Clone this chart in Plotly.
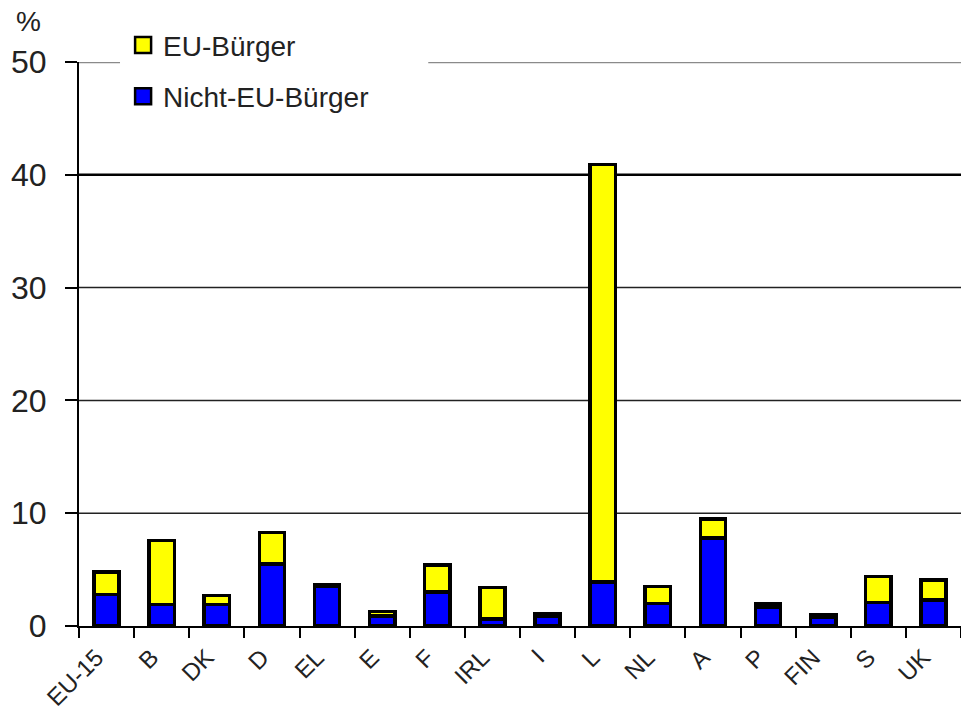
import plotly.graph_objects as go

countries = ["EU-15", "B", "DK", "D", "EL", "E", "F", "IRL", "I", "L", "NL", "A", "P", "FIN", "S", "UK"]
non_eu = [2.8, 1.9, 1.9, 5.5, 3.5, 0.9, 3.0, 0.6, 0.9, 3.9, 2.0, 7.8, 1.7, 0.8, 2.1, 2.3]
eu = [2.0, 5.7, 0.8, 2.8, 0.2, 0.4, 2.4, 2.8, 0.2, 37.0, 1.5, 1.7, 0.3, 0.2, 2.3, 1.8]
y_ticks = [0, 10, 20, 30, 40, 50]

FONT = "Liberation Sans, Arial, sans-serif"
YELLOW = "#ffff00"
BLUE = "#0000ff"

fig = go.Figure()
fig.add_trace(go.Bar(x=countries, y=non_eu, name="Nicht-EU-Bürger", showlegend=False,
                     marker=dict(color=BLUE, line=dict(color="black", width=3.5)),
                     width=0.46))
fig.add_trace(go.Bar(x=countries, y=eu, name="EU-Bürger", showlegend=False,
                     marker=dict(color=YELLOW, line=dict(color="black", width=3.5)),
                     width=0.46))
# legend entries (square swatches)
fig.add_trace(go.Scatter(x=[None], y=[None], mode="markers", name="EU-Bürger",
                         legendgroup="eu",
                         marker=dict(symbol="square", size=18, color=YELLOW,
                                     line=dict(color="black", width=2.5))))
fig.add_trace(go.Scatter(x=[None], y=[None], mode="markers", name="Nicht-EU-Bürger",
                         legendgroup="noneu",
                         marker=dict(symbol="square", size=18, color=BLUE,
                                     line=dict(color="black", width=2.5))))

# gridlines
for v in y_ticks[1:4]:
    fig.add_shape(type="line", xref="paper", yref="y", x0=0, x1=1, y0=v, y1=v,
                  line=dict(color="#222", width=1.5), layer="below")
fig.add_shape(type="line", xref="paper", yref="y", x0=0, x1=1, y0=y_ticks[4], y1=y_ticks[4],
              line=dict(color="black", width=2.5), layer="below")
for x0, x1 in [(0, 0.0465), (0.396, 1)]:
    fig.add_shape(type="line", xref="paper", yref="y", x0=x0, x1=x1,
                  y0=y_ticks[5], y1=y_ticks[5],
                  line=dict(color="#8a8a8a", width=2.5), layer="below")

fig.update_layout(
    barmode="stack",
    width=961, height=724,
    margin=dict(l=79, r=0, t=62, b=98),
    paper_bgcolor="white", plot_bgcolor="white",
    font=dict(family=FONT, color="#222"),
    showlegend=True,
    legend=dict(x=0.05, y=1.074, xanchor="left", yanchor="top",
                bgcolor="rgba(255,255,255,0)", font=dict(size=28, family=FONT, color="#222"),
                itemwidth=30, tracegroupgap=12, itemclick=False),
    bargap=0.5,
    xaxis=dict(type="category", showline=True, linecolor="black", linewidth=2,
               ticks="outside", tickson="boundaries", ticklen=10, tickwidth=2,
               tickcolor="black", tickangle=-45,
               ticklabelshift=-10, ticklabelstandoff=6,
               tickfont=dict(size=24, family=FONT, color="#222"),
               showgrid=False),
    yaxis=dict(range=[0, 50], tickvals=y_ticks, showline=True, linecolor="black",
               linewidth=2, ticks="outside", ticklen=12, tickwidth=2, tickcolor="black",
               showgrid=False, zeroline=False,
               ticklabelstandoff=12,
               tickfont=dict(size=32, family=FONT, color="#222")),
    annotations=[dict(text="%", xref="paper", yref="paper", x=-0.057, y=1.071,
                      showarrow=False, font=dict(size=28, family=FONT, color="#222"),
                      xanchor="center", yanchor="middle")],
)

fig.write_html("out.html")
